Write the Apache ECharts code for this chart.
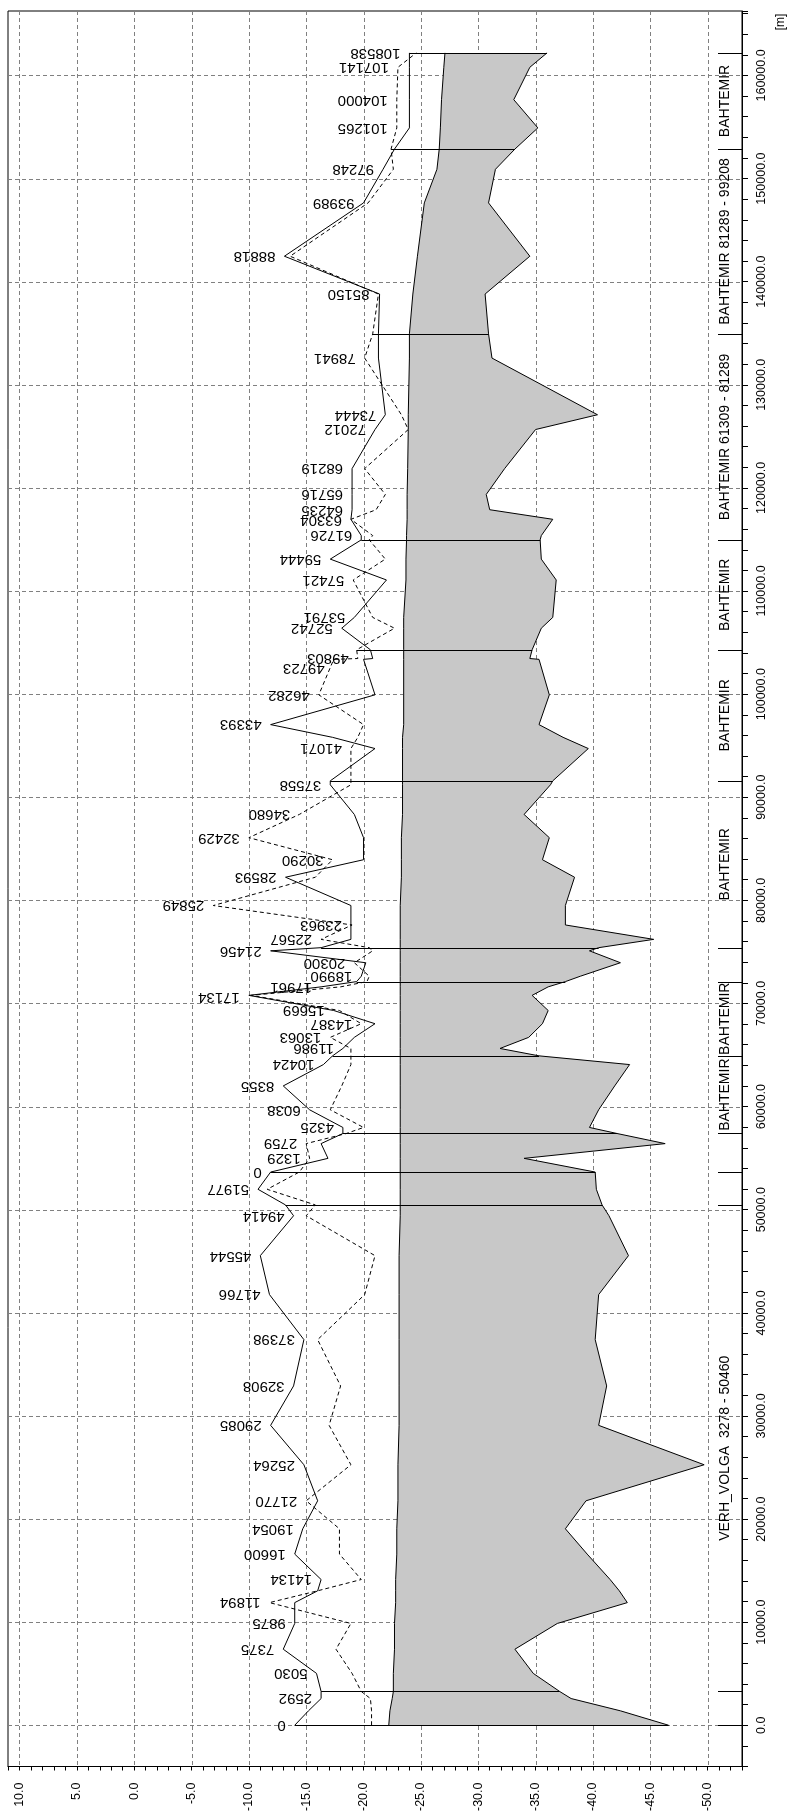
<!DOCTYPE html>
<html><head><meta charset="utf-8">
<script src="https://cdn.jsdelivr.net/npm/echarts@6/dist/echarts.min.js"></script>
<style>html,body{margin:0;padding:0;background:#fff}#c{width:795px;height:1814px}</style>
</head><body><div id="c"></div>
<script>
// ---------- tick labels ----------
const elevTicks = [10, 5, 0, -5, -10, -15, -20, -25, -30, -35, -40, -45, -50];
const chainTicks = [0, 10000, 20000, 30000, 40000, 50000, 60000, 70000, 80000, 90000, 100000, 110000, 120000, 130000, 140000, 150000, 160000];

// ---------- VERH_VOLGA (chainage = global chainage) ----------
const vvLabel = ['0','','2592','','5030','7375','9875','11894','','14134','16600','19054','21770','25264','29085','32908','37398','41766','45544','49414','','51977'];
const vvChain = [0,1400,2592,3278,5030,7375,9875,11894,13040,14134,16600,19054,21770,25264,29085,32908,37398,41766,45544,49414,50460,51977];
const vvLeft  = [-14.0,-15.2,-16.3,-16.3,-15.9,-13.0,-14.0,-14.0,-16.0,-16.3,-14.0,-14.7,-16.0,-14.8,-11.9,-13.9,-14.8,-11.8,-11.0,-13.9,-13.2,-10.8];
const vvRight = [-20.7,-20.7,-20.6,-19.8,-19.0,-17.6,-18.9,-11.8,-16.0,-19.8,-17.9,-17.9,-15.0,-18.9,-17.0,-18.0,-16.0,-20.1,-21.0,-15.0,-15.8,-11.6];
const vvWater = [-22.2,-22.3,-22.5,-22.6,-22.6,-22.7,-22.7,-22.8,-22.8,-22.8,-22.9,-22.9,-23.0,-23.0,-23.1,-23.1,-23.1,-23.1,-23.1,-23.2,-23.2,-23.2];
const vvBed   = [-46.6,-42.4,-38.1,-37.1,-34.8,-33.2,-36.9,-43.0,-42.3,-41.5,-39.5,-37.6,-39.4,-49.7,-40.5,-41.2,-40.2,-40.5,-43.1,-41.4,-40.8,-40.3];

// ---------- BAHTEMIR (local chainage; global = offset + local) ----------
const bhOffset = 53650;
const bhLabel = ['0','1329','2759','','4325','6038','8355','10424','','11986','13063','14387','15669','17134','17961','','18990','20300','21456','','22567','23963','25849','28593','30290','32429','34680','37558','','41071','','43393','46282','49723','49803','','52742','53791','57421','59444','','61726','63304','64235','65716','68219','72012','73444','78941','','85150','88818','93989','97248','','101265','104000','107141','108538'];
const bhChain = [0,1329,2759,3740,4325,6038,8355,10424,11270,11986,13063,14387,15669,17134,17961,18470,18990,20300,21456,21760,22567,23963,25849,28593,30290,32429,34680,37558,37940,41071,42160,43393,46282,49723,49803,50650,52742,53791,57421,59444,61309,61726,63304,64235,65716,68219,72012,73444,78941,81289,85150,88818,93989,97248,99208,101265,104000,107141,108538];
const bhLeft  = [-11.9,-16.9,-16.3,-18.2,-18.2,-15.3,-13.0,-16.5,-17.3,-18.2,-19.2,-21.0,-17.4,-10.0,-16.3,-19.4,-19.8,-20.2,-11.9,-16.3,-18.9,-18.9,-18.9,-13.2,-20.0,-20.0,-19.2,-17.1,-17.1,-21.0,-17.3,-11.9,-21.0,-20.0,-20.8,-20.6,-18.1,-19.2,-22.0,-17.1,-19.8,-19.8,-18.9,-19.0,-19.0,-19.0,-21.0,-21.9,-21.3,-21.3,-21.4,-13.1,-20.0,-21.7,-22.7,-24.0,-24.0,-24.0,-24.0];
const bhRight = [-14.4,-15.3,-15.0,-18.5,-20.0,-17.1,-18.1,-18.9,-18.9,-18.9,-17.1,-19.8,-17.9,-10.2,-18.0,-20.3,-20.5,-19.2,-20.8,-20.5,-16.3,-19.0,-6.9,-15.8,-17.3,-10.0,-14.4,-18.9,-18.9,-18.9,-19.5,-20.0,-16.1,-17.4,-19.5,-19.4,-22.7,-20.8,-19.1,-21.9,-20.5,-20.8,-18.9,-21.1,-21.9,-20.1,-23.9,-23.3,-20.1,-20.8,-21.3,-13.6,-20.4,-22.6,-22.4,-22.9,-22.9,-23.0,-24.6];
const bhWater = [-23.2,-23.2,-23.2,-23.2,-23.2,-23.2,-23.2,-23.2,-23.2,-23.2,-23.2,-23.2,-23.2,-23.2,-23.2,-23.2,-23.2,-23.2,-23.2,-23.2,-23.2,-23.2,-23.2,-23.3,-23.3,-23.3,-23.4,-23.4,-23.4,-23.4,-23.4,-23.5,-23.5,-23.5,-23.5,-23.5,-23.5,-23.5,-23.7,-23.7,-23.75,-23.75,-23.8,-23.8,-23.8,-23.85,-23.9,-23.9,-24.0,-24.0,-24.3,-24.7,-25.3,-26.4,-26.6,-26.7,-26.8,-27.0,-27.1];
const bhBed   = [-40.2,-34.0,-46.3,-42.1,-39.7,-40.5,-41.9,-43.2,-35.3,-31.9,-34.4,-35.6,-36.1,-34.7,-36.1,-37.6,-38.9,-42.4,-39.7,-40.5,-45.3,-37.6,-37.6,-38.4,-35.6,-36.2,-34.0,-36.3,-36.5,-39.6,-37.4,-35.3,-36.2,-35.3,-34.5,-34.7,-35.5,-36.5,-36.8,-35.5,-35.4,-35.5,-36.5,-31.0,-30.7,-32.3,-35.0,-40.4,-31.2,-30.9,-30.6,-34.5,-30.9,-31.5,-33.2,-35.2,-33.1,-34.5,-36.0];

// ---------- branch boundaries and names ----------
const vvBounds = [0, 3278, 50460];
const bhBounds = [0, 3740, 11270, 18470, 21760, 37940, 50650, 61309, 81289, 99208, 108538];
const branchNames = ['VERH_VOLGA  3278 - 50460','BAHTEMIR','BAHTEMIR','BAHTEMIR','BAHTEMIR','BAHTEMIR','BAHTEMIR 61309 - 81289','BAHTEMIR 81289 - 99208','BAHTEMIR'];
const branchStart = [3278, 57390, 64920, 75410, 91590, 104300, 114959, 134939, 152858];
const branchEnd   = [50460, 64920, 72120, 91590, 104300, 114959, 134939, 152858, 162188];

// ---------- combined profile ----------
const allLabel = vvLabel.concat(bhLabel);
const allChain = vvChain.concat(bhChain.map(c => c + bhOffset));
const allLeft  = vvLeft.concat(bhLeft);
const allRight = vvRight.concat(bhRight);
const allWater = vvWater.concat(bhWater);
const allBed   = vvBed.concat(bhBed);
const allBounds = vvBounds.concat(bhBounds.map(c => c + bhOffset));

const pairs = (vals) => vals.map((v, i) => [v, allChain[i]]);
const FONT = '"Liberation Sans", Arial, sans-serif';
const cr = v => Math.round(v) + 0.5;

const chart = echarts.init(document.getElementById('c'), null, {renderer: 'canvas'});
chart.setOption({
  animation: false,
  backgroundColor: '#fff',
  grid: {left: 8, right: 53, top: 11, bottom: 45, show: true, borderColor: '#000', borderWidth: 1, backgroundColor: 'transparent'},
  xAxis: {
    type: 'value', inverse: true, min: -53, max: 11, interval: 1, position: 'bottom',
    axisLine: {show: true, onZero: false, lineStyle: {color: '#000', width: 1}},
    axisTick: {show: true, length: 4, lineStyle: {color: '#000'}},
    splitLine: {show: false},
    axisLabel: {show: true, rotate: 90, margin: 16, color: '#000', fontFamily: FONT, fontSize: 12.5,
      formatter: v => (elevTicks.indexOf(v) >= 0 ? v.toFixed(1) : '')}
  },
  yAxis: {
    type: 'value', min: -4000, max: 166250, interval: 2000, position: 'right',
    axisLine: {show: true, onZero: false, lineStyle: {color: '#000', width: 1}},
    axisTick: {show: true, length: 6, lineStyle: {color: '#000'}},
    splitLine: {show: false},
    axisLabel: {show: true, rotate: 90, margin: 13, color: '#000', fontFamily: FONT, fontSize: 12.5,
      formatter: v => (chainTicks.indexOf(v) >= 0 ? v.toFixed(1) : '')}
  },
  graphic: [{type: 'text', x: 781, y: 22, rotation: Math.PI / 2,
    style: {text: '[m]', fill: '#000', font: '12px ' + FONT, align: 'center', verticalAlign: 'middle'}}],
  series: [
    { // dashed grid + water (grey) area
      type: 'custom', coordinateSystem: 'cartesian2d', z: 1, silent: true, data: [[0, 0]],
      renderItem: function (params, api) {
        const cs = params.coordSys;
        const kids = [];
        elevTicks.forEach(v => {
          const p = api.coord([v, 0]);
          kids.push({type: 'line', shape: {x1: cr(p[0]), y1: cs.y, x2: cr(p[0]), y2: cs.y + cs.height},
            style: {stroke: '#808080', lineWidth: 1, lineDash: [4, 3]}});
        });
        chainTicks.forEach(c => {
          const p = api.coord([0, c]);
          kids.push({type: 'line', shape: {x1: cs.x, y1: cr(p[1]), x2: cs.x + cs.width, y2: cr(p[1])},
            style: {stroke: '#808080', lineWidth: 1, lineDash: [4, 3]}});
        });
        const pts = [];
        for (let i = 0; i < allChain.length; i++) pts.push(api.coord([allWater[i], allChain[i]]));
        for (let i = allChain.length - 1; i >= 0; i--) pts.push(api.coord([allBed[i], allChain[i]]));
        kids.push({type: 'polygon', shape: {points: pts}, style: {fill: '#c8c8c8', stroke: null}});
        return {type: 'group', children: kids};
      }
    },
    {type: 'line', name: 'left bank', data: pairs(allLeft), z: 3, showSymbol: false, symbol: 'none', silent: true,
      lineStyle: {color: '#000', width: 1}},
    {type: 'line', name: 'right bank', data: pairs(allRight), z: 3, showSymbol: false, symbol: 'none', silent: true,
      lineStyle: {color: '#000', width: 1, type: [4, 3]}},
    {type: 'line', name: 'water level', data: pairs(allWater), z: 3, showSymbol: false, symbol: 'none', silent: true,
      lineStyle: {color: '#000', width: 1}},
    {type: 'line', name: 'bed', data: pairs(allBed), z: 3, showSymbol: false, symbol: 'none', silent: true,
      lineStyle: {color: '#000', width: 1}},
    { // branch boundary cross lines, right side marks and branch names
      type: 'custom', coordinateSystem: 'cartesian2d', z: 4, silent: true, data: [[0, 0]],
      renderItem: function (params, api) {
        const cs = params.coordSys;
        const right = cs.x + cs.width;
        const kids = [];
        allBounds.forEach(b => {
          const i = allChain.indexOf(b);
          const top = Math.max(allLeft[i], allRight[i]);
          const p1 = api.coord([top, b]);
          const p2 = api.coord([allBed[i], b]);
          kids.push({type: 'line', shape: {x1: p1[0], y1: cr(p1[1]), x2: p2[0], y2: cr(p1[1])},
            style: {stroke: '#000', lineWidth: 1}});
          kids.push({type: 'line', shape: {x1: right - 24, y1: cr(p1[1]), x2: right, y2: cr(p1[1])},
            style: {stroke: '#000', lineWidth: 1}});
        });
        branchNames.forEach((n, k) => {
          const pa = api.coord([0, branchStart[k]]);
          const pb = api.coord([0, branchEnd[k]]);
          kids.push({type: 'text', x: right - 17, y: (pa[1] + pb[1]) / 2, rotation: Math.PI / 2,
            style: {text: n, fill: '#000', font: '14px ' + FONT, align: 'center', verticalAlign: 'middle'}});
        });
        return {type: 'group', children: kids};
      }
    },
    { // cross-section chainage labels (upside down as in the rotated print)
      type: 'custom', coordinateSystem: 'cartesian2d', z: 5, silent: true, data: [[0, 0]],
      renderItem: function (params, api) {
        const kids = [];
        const order = allChain.map((c, i) => i).filter(i => allLabel[i] !== '')
          .sort((a, b) => allChain[b] - allChain[a]);
        let lastY = -1e9;
        order.forEach(i => {
          const top = Math.max(allLeft[i], allRight[i]);
          const p = api.coord([top, allChain[i]]);
          let y = p[1];
          if (y < lastY + 10) y = lastY + 10;
          lastY = y;
          kids.push({type: 'text', x: p[0] - 9, y: y, rotation: Math.PI,
            style: {text: allLabel[i], fill: '#000', font: '15px ' + FONT, align: 'left', verticalAlign: 'middle'}});
        });
        return {type: 'group', children: kids};
      }
    }
  ]
});
</script></body></html>
